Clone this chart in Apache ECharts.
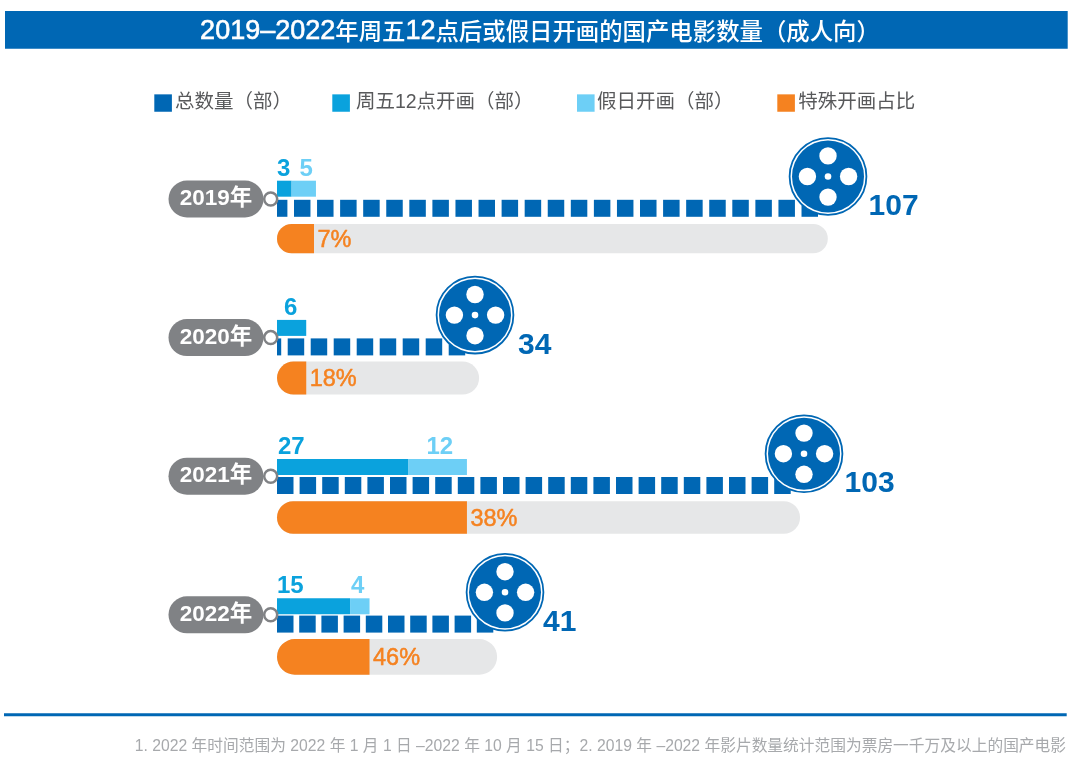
<!DOCTYPE html>
<html>
<head>
<meta charset="utf-8">
<style>html,body{margin:0;padding:0;background:#fff}#c{width:1080px;height:761px}</style>
<script src="https://cdn.jsdelivr.net/npm/echarts@6/dist/echarts.min.js"></script>
</head>
<body>
<div id="c"></div>
<script>
// ---- data ----
const years = ['2019年', '2020年', '2021年', '2022年'];
const totals = [107, 34, 103, 41];
const friday12 = [3, 6, 27, 15];
const holiday = [5, null, 12, 4];
const sharePct = ['7%', '18%', '38%', '46%'];
const shareTrack = [113.1, 41.5, 107.4, 45.2]; // drawn length of each grey track, in bar units
const shareFill = [7.6, 6, 39, 19];            // drawn length of each orange part, in bar units
const titleText = '2019–2022年周五12点后或假日开画的国产电影数量（成人向）';
const noteText = '1. 2022 年时间范围为 2022 年 1 月 1 日 –2022 年 10 月 15 日；2. 2019 年 –2022 年影片数量统计范围为票房一千万及以上的国产电影';
const seriesNames = ['总数量（部）', '周五12点开画（部）', '假日开画（部）', '特殊开画占比'];

// ---- styling and layout ----
const BLUE = '#0067b4', CYAN = '#0aa2dd', SKY = '#6dcff6', ORANGE = '#f58220', TRACK = '#e6e7e8', PILL = '#808285';
const LATIN = '"Liberation Sans","Noto Sans CJK SC",sans-serif';
const CJK = '"Noto Sans CJK SC",sans-serif';
const X0 = 277, UNIT = 4.87, TOTAL_UNIT = 4.8, TOTAL_MIN = -3.96;
const lane = (first, step) => ({ left: X0, top: first - step / 2, width: 780, height: step * 4 });
const squarePitch = [23.07, 23, 22.6, 22.2], squarePhase = [-6.1, -12.3, 0, 0];
const trackH = [29.3, 33, 32.4, 35.6];
const reelShift = [18.4, 15.8, 13.6, 12.2];
const numberGap = [40.5, 43, 40.5, 38];
const dxA = [0, 7, 1, 0], dxB = [8, 0, 18, 1];

function renderTotal(params, api) {
  const i = params.dataIndex;
  const end = api.coord([api.value(0), i]);
  const left = api.coord([TOTAL_MIN, i])[0];
  const cy = end[1], p = squarePitch[i];
  const children = [];
  for (let x = left + squarePhase[i]; x < end[0] - 4; x += p) {
    const a = Math.max(x, left), b = x + 16.5;
    children.push({ type: 'rect', shape: { x: a, y: cy - 8.5, width: b - a, height: 17 }, style: { fill: BLUE } });
  }
  const rx = end[0] + reelShift[i], ry = cy - 31.8;
  const circ = (x, y, r, style) => ({ type: 'circle', shape: { cx: x, cy: y, r }, style });
  children.push(circ(rx, ry, 38.4, { fill: '#fff', stroke: BLUE, lineWidth: 1.8 }));
  children.push(circ(rx, ry, 36, { fill: BLUE }));
  [[0, -20.6], [0, 20.6], [-20.6, 0], [20.6, 0]].forEach(d => children.push(circ(rx + d[0], ry + d[1], 8.7, { fill: '#fff' })));
  children.push(circ(rx, ry, 3.3, { fill: '#fff' }));
  children.push({ type: 'text', style: { text: String(totals[i]), x: rx + numberGap[i], y: cy - 1.6, fill: BLUE, fontSize: 30, fontWeight: 'bold', fontFamily: LATIN, textAlign: 'left', textVerticalAlign: 'middle' } });
  return { type: 'group', children };
}

function renderShare(params, api) {
  const i = params.dataIndex;
  const end = api.coord([api.value(0), i]);
  const left = api.coord([0, i])[0];
  const split = api.coord([api.value(2), i])[0];
  const h = trackH[i], y = end[1] - h / 2;
  return { type: 'group', children: [
    { type: 'rect', shape: { x: left, y, width: end[0] - left, height: h, r: h / 2 }, style: { fill: TRACK } },
    { type: 'rect', shape: { x: left, y, width: split - left, height: h, r: [h / 2, 0, 0, h / 2] }, style: { fill: ORANGE } },
    { type: 'text', style: { text: sharePct[i], x: split + 3.5, y: end[1] + 1.7, fill: ORANGE, stroke: ORANGE, lineWidth: 0.5, fontSize: 23.5, fontFamily: LATIN, textAlign: 'left', textVerticalAlign: 'middle' } }
  ] };
}

const hiddenX = (gridIndex, min, unit) => ({ type: 'value', gridIndex, min, max: min + 780 / unit, show: false });
const hiddenY = gridIndex => ({ type: 'category', gridIndex, data: years, inverse: true, show: false });
const labelItem = (v, dx) => v == null ? null : { value: v, label: { position: [dx, -23.5] } };
const stackLabel = color => ({ show: true, color, fontSize: 24, fontWeight: 'bold', fontFamily: LATIN, formatter: '{c}' });
const legendAt = (name, left, pad) => ({
  data: [name], left, top: 93.3, padding: 0, itemWidth: 17.6, itemHeight: 17.4, icon: 'rect', selectedMode: false,
  textStyle: { fontSize: 19.5, color: '#58595b', fontFamily: LATIN, padding: [0, 0, 0, pad] }
});
// Latin digits are set larger than the Chinese text in the heading
const titleRich = titleText.replace(/[0-9–]+/g, m => '\u0000' + m + '\u0001')
  .split(/(\u0000[^\u0001]*\u0001)/).filter(Boolean)
  .map(s => s[0] === '\u0000' ? '{a|' + s.slice(1, -1) + '}' : '{b|' + s + '}').join('');

const chart = echarts.init(document.getElementById('c'), null, { renderer: 'canvas', width: 1080, height: 761 });
chart.setOption({
  animation: false,
  backgroundColor: '#fff',
  graphic: [
    { type: 'rect', z: 0, shape: { x: 5, y: 11, width: 1062.7, height: 37.7 }, style: { fill: BLUE } },
    { type: 'rect', z: 0, shape: { x: 4, y: 713.3, width: 1062.7, height: 3 }, style: { fill: BLUE } }
  ],
  title: [
    { text: titleRich, left: 535, top: 13, textAlign: 'center', textStyle: { rich: {
      a: { color: '#fff', fontSize: 27, fontWeight: 'normal', fontFamily: LATIN, textBorderColor: '#fff', textBorderWidth: 0.6 },
      b: { color: '#fff', fontSize: 23.4, fontWeight: 500, fontFamily: CJK }
    } } },
    { text: noteText, right: 9, top: 734, textStyle: { color: '#a7a9ac', fontSize: 15.73, fontWeight: 'normal', fontFamily: LATIN } }
  ],
  legend: [legendAt(seriesNames[0], 154.3, -2), legendAt(seriesNames[1], 332.3, 1), legendAt(seriesNames[2], 577, -2.6), legendAt(seriesNames[3], 777.3, -1.6)],
  grid: [lane(188.7, 139.2), lane(208.3, 138.6), lane(238.7, 139.4), lane(199, 138.6)],
  xAxis: [hiddenX(0, 0, UNIT), hiddenX(1, TOTAL_MIN, TOTAL_UNIT), hiddenX(2, 0, UNIT), hiddenX(3, 0, UNIT)],
  yAxis: [hiddenY(0), hiddenY(1), hiddenY(2), {
    type: 'category', gridIndex: 3, data: years, inverse: true,
    axisLine: { show: false }, axisTick: { show: false },
    axisLabel: {
      margin: 61, align: 'center', verticalAlign: 'middle', width: 95, height: 34, lineHeight: 34, padding: [3, 0, 0, 0], borderRadius: 18.5,
      backgroundColor: PILL, color: '#fff', fontSize: 22.5, fontWeight: 'bold', fontFamily: LATIN
    }
  }],
  series: [
    { name: seriesNames[1], type: 'bar', xAxisIndex: 0, yAxisIndex: 0, stack: 'open', barWidth: 16,
      itemStyle: { color: CYAN }, label: stackLabel(CYAN), data: friday12.map((v, i) => labelItem(v, dxA[i])) },
    { name: seriesNames[2], type: 'bar', xAxisIndex: 0, yAxisIndex: 0, stack: 'open', barWidth: 16,
      itemStyle: { color: SKY }, label: stackLabel(SKY), data: holiday.map((v, i) => labelItem(v, dxB[i])) },
    { name: seriesNames[0], type: 'custom', xAxisIndex: 1, yAxisIndex: 1, clip: false, z: 3,
      itemStyle: { color: BLUE }, renderItem: renderTotal, encode: { x: 0, y: 1 },
      data: totals.map((v, i) => [v, i]) },
    { name: seriesNames[3], type: 'custom', xAxisIndex: 2, yAxisIndex: 2, clip: false,
      itemStyle: { color: ORANGE }, renderItem: renderShare, encode: { x: 0, y: 1 },
      data: shareTrack.map((v, i) => [v, i, shareFill[i]]) },
    { type: 'scatter', xAxisIndex: 3, yAxisIndex: 3, clip: false, z: 4, symbol: 'circle', symbolSize: 13, symbolOffset: [-6.3, 0],
      itemStyle: { color: '#fff', borderColor: PILL, borderWidth: 2.5, opacity: 1 }, data: years.map((y, i) => [0, i]), silent: true }
  ]
});
</script>
</body>
</html>
